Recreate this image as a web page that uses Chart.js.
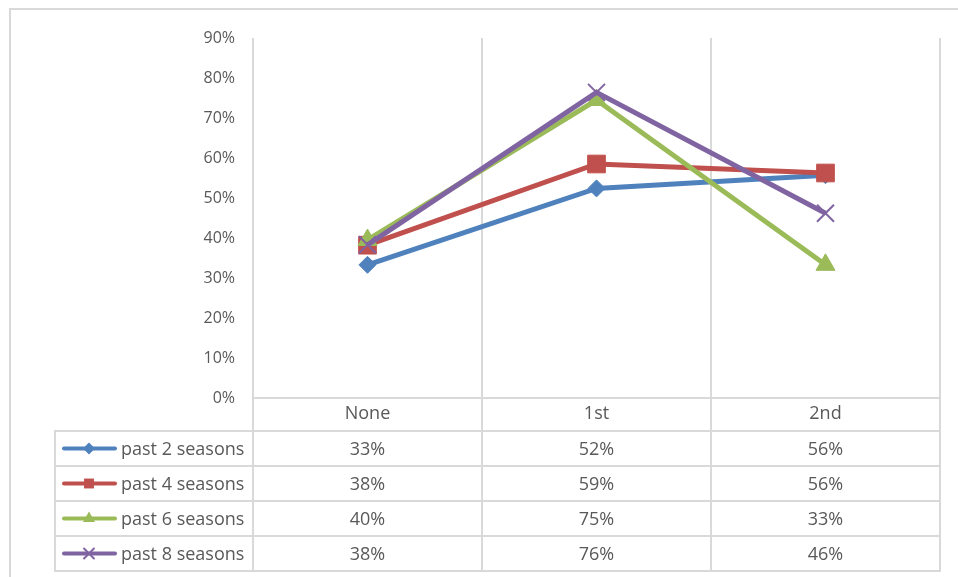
<!DOCTYPE html>
<html><head><meta charset="utf-8">
<script src="https://cdn.jsdelivr.net/npm/chart.js@4.4.1/dist/chart.umd.min.js"></script>
<style>html,body{margin:0;padding:0;background:#fff;}#wrap{position:relative;width:958px;height:577px;}</style>
</head><body><div id="wrap"><canvas id="c" width="958" height="577"></canvas></div>
<script>
// ---- data ----
const categories = ['None', '1st', '2nd'];
const seriesNames = ['past 2 seasons', 'past 4 seasons', 'past 6 seasons', 'past 8 seasons'];
const past2 = [0.333, 0.524, 0.557];
const past4 = [0.382, 0.585, 0.5625];
const past6 = [0.395, 0.745, 0.333];
const past8 = [0.383, 0.764, 0.462];
const yTickValues = [0, 0.1, 0.2, 0.3, 0.4, 0.5, 0.6, 0.7, 0.8, 0.9];

// ---- style ----
const colors = ['#4F81BD', '#C0504D', '#9BBB59', '#8064A2'];
const styles = ['rectRot', 'rect', 'triangle', 'crossRot'];
const radii = [8.5, 12.5, 11, 12];
const legendRadii = [6, 7, 7, 7];
const TXT = '#595959', GRID = '#D9D9D9', FONT = '"Open Sans", "Liberation Sans", sans-serif';
const seriesValues = [past2, past4, past6, past8];

function pct(v) { return Math.round(v * 100) + '%'; }

function drawMarker(ctx, style, r, x, y, color) {
  ctx.save();
  ctx.fillStyle = color; ctx.strokeStyle = color; ctx.lineWidth = 1;
  ctx.beginPath();
  if (style === 'rectRot') {
    ctx.moveTo(x - r, y); ctx.lineTo(x, y - r); ctx.lineTo(x + r, y); ctx.lineTo(x, y + r); ctx.closePath(); ctx.fill();
  } else if (style === 'rect') {
    const s = r * Math.SQRT1_2; ctx.rect(x - s, y - s, 2 * s, 2 * s); ctx.fill();
  } else if (style === 'triangle') {
    ctx.moveTo(x, y - r);
    ctx.lineTo(x + Math.sin(2 * Math.PI / 3) * r, y + r / 2);
    ctx.lineTo(x - Math.sin(2 * Math.PI / 3) * r, y + r / 2);
    ctx.closePath(); ctx.fill();
  } else {
    const d = r * Math.SQRT1_2; ctx.lineWidth = 2;
    ctx.moveTo(x - d, y - d); ctx.lineTo(x + d, y + d);
    ctx.moveTo(x - d, y + d); ctx.lineTo(x + d, y - d); ctx.stroke();
  }
  ctx.restore();
}

const framePlugin = {
  id: 'frame',
  beforeDraw(chart) {
    const ctx = chart.ctx;
    ctx.save();
    ctx.strokeStyle = GRID; ctx.lineWidth = 2;
    ctx.beginPath();
    ctx.moveTo(9, 9); ctx.lineTo(958, 9);
    ctx.moveTo(10, 8); ctx.lineTo(10, 577);
    ctx.stroke();
    ctx.restore();
  }
};

const tablePlugin = {
  id: 'dataTable',
  afterDraw(chart) {
    const ctx = chart.ctx, xs = chart.scales.x, area = chart.chartArea;
    const firstRow = 431, rowH = 35, tableLeft = 55;
    const n = seriesNames.length;
    const bottom = firstRow + rowH * n;
    const step = xs.getPixelForValue(1) - xs.getPixelForValue(0);
    ctx.save();
    ctx.strokeStyle = GRID; ctx.lineWidth = 2;
    ctx.beginPath();
    for (let i = 0; i <= n; i++) {
      const y = firstRow + rowH * i;
      ctx.moveTo(tableLeft - 1, y); ctx.lineTo(area.right + 1, y);
    }
    for (let i = 0; i <= categories.length; i++) {
      const x = xs.getPixelForValue(0) - step / 2 + step * i;
      ctx.moveTo(x, area.bottom); ctx.lineTo(x, bottom + 1);
    }
    ctx.moveTo(tableLeft, firstRow); ctx.lineTo(tableLeft, bottom + 1);
    ctx.stroke();

    ctx.font = '18px ' + FONT;
    ctx.textBaseline = 'middle';
    for (let s = 0; s < n; s++) {
      const cy = firstRow + rowH * s + rowH / 2;
      ctx.strokeStyle = colors[s]; ctx.lineWidth = 4; ctx.lineCap = 'round';
      ctx.beginPath(); ctx.moveTo(64, cy); ctx.lineTo(115, cy); ctx.stroke();
      drawMarker(ctx, styles[s], legendRadii[s], 89, cy, colors[s]);
      ctx.fillStyle = TXT;
      ctx.textAlign = 'left';
      ctx.fillText(seriesNames[s], 121, cy + 1);
      ctx.textAlign = 'center';
      seriesValues[s].forEach((v, i) => ctx.fillText(pct(v), xs.getPixelForValue(i), cy + 1));
    }
    ctx.restore();
  }
};

function build() {
  const datasets = seriesNames.map((name, i) => ({
    label: name,
    data: seriesValues[i],
    borderColor: colors[i],
    backgroundColor: colors[i],
    borderWidth: 5,
    pointStyle: styles[i],
    pointRadius: radii[i],
    pointBackgroundColor: colors[i],
    pointBorderColor: colors[i],
    pointBorderWidth: i === 3 ? 2 : 1,
    tension: 0,
    order: seriesNames.length - 1 - i
  }));
  new Chart(document.getElementById('c'), {
    type: 'line',
    data: { labels: categories, datasets },
    plugins: [framePlugin, tablePlugin],
    options: {
      responsive: false,
      animation: false,
      events: [],
      layout: { padding: { left: 0, right: 18, top: 38, bottom: 0 } },
      plugins: { legend: { display: false }, tooltip: { enabled: false } },
      scales: {
        x: {
          offset: true,
          grid: { display: true, offset: true, color: GRID, lineWidth: 2, drawTicks: false },
          border: { display: true, color: GRID, width: 2 },
          ticks: { color: TXT, font: { family: FONT, size: 18 }, padding: 5 },
          afterFit(scale) { scale.height = 179; }
        },
        y: {
          min: 0, max: 0.9,
          afterBuildTicks(scale) { scale.ticks = yTickValues.map(v => ({ value: v })); },
          grid: { display: false, drawTicks: false },
          border: { display: false },
          ticks: { color: TXT, font: { family: FONT, size: 16 }, padding: 18, callback: v => pct(v) },
          afterFit(scale) { scale.width = 253; }
        }
      }
    }
  });
}

if (document.fonts && document.fonts.load) {
  Promise.all([document.fonts.load('16px "Open Sans"'), document.fonts.load('18px "Open Sans"')]).then(build, build);
} else { build(); }
</script>
</body></html>
